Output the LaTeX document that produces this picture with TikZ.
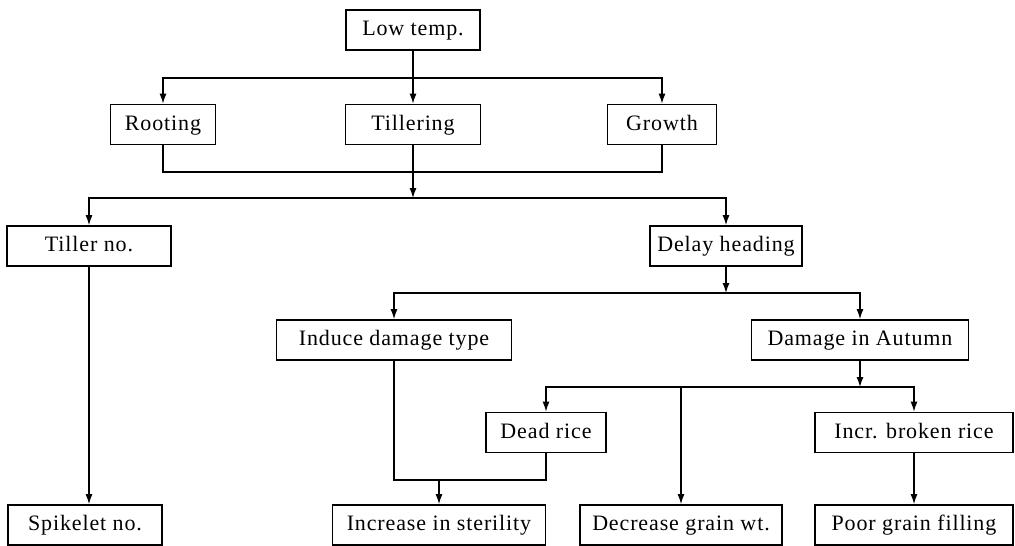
\documentclass[tikz,border=0pt]{standalone}
\usepackage{fontspec}
\setmainfont{Liberation Serif}
\newfontfamily\boxfont{Liberation Serif}[LetterSpace=4]
\usepackage{tikz}
\usetikzlibrary{arrows.meta}
\tikzset{
  stage/.style={draw, line width=1.8pt, minimum height=40pt, inner sep=0pt,
    text height=15pt, text depth=4pt,
    font=\boxfont\fontsize{22}{26}\selectfont},
  flow/.style={line width=1.2pt, >={Latex[length=10pt,width=7pt]}},
}

\begin{document}
\begin{tikzpicture}[x=1pt,y=-1pt]
        \useasboundingbox (0,0) rectangle (1015,546);

        \node[stage, minimum width=134pt] (lowtemp) at (413,30) {Low temp.};
        \node[stage, minimum width=105pt] (rooting) at (163,124.5) {Rooting};
        \node[stage, minimum width=135pt] (tillering) at (413,124.5) {Tillering};
        \node[stage, minimum width=109pt] (growth) at (662,124.5) {Growth};
        \node[stage, minimum width=164pt] (tillerno) at (89,246) {Tiller no.};
        \node[stage, minimum width=152pt] (delay) at (726,246) {Delay heading};
        \node[stage, minimum width=235pt] (induce) at (394,340) {Induce damage type};
        \node[stage, minimum width=217pt] (autumn) at (860,340) {Damage in Autumn};
        \node[stage, minimum width=120pt] (deadrice) at (546,432.5) {Dead rice};
        \node[stage, minimum width=198pt] (broken) at (914,432.5) {Incr. broken rice};
        \node[stage, minimum width=154pt] (spikelet) at (85,525) {Spikelet no.};
        \node[stage, minimum width=213pt] (sterility) at (439,525) {Increase in sterility};
        \node[stage, minimum width=202pt] (decrease) at (681,525) {Decrease grain wt.};
        \node[stage, minimum width=198pt] (poor) at (914,525) {Poor grain filling};

        \coordinate (bar1) at (413,78);
        \coordinate (bar2) at (413,172);
        \coordinate (split1) at (413,198);
        \coordinate (split2) at (726,293);
        \coordinate (split3) at (860,387);
        \coordinate (merge) at (439,480);

        \draw[flow,->] (lowtemp) -- (tillering);
        \draw[flow,<->] (rooting.north) |- (bar1) -| (growth.north);
        \draw[flow] (rooting.south) |- (bar2) -| (growth.south);
        \draw[flow,->] (tillering) -- (split1);
        \draw[flow,<->] (tillerno.north) |- (split1) -| (delay.north);
        \draw[flow,->] (delay) -- (split2);
        \draw[flow,<->] (induce.north) |- (split2) -| (autumn.north);
        \draw[flow,->] (autumn) -- (split3);
        \draw[flow,<->] (deadrice.north) |- (split3) -| (broken.north);
        \draw[flow,->] (split3 -| decrease.north) -- (decrease.north);
        \draw[flow] (induce.south) |- (merge) -| (deadrice.south);
        \draw[flow,->] (merge) -- (sterility);
        \draw[flow,->] (tillerno) -- (tillerno |- spikelet.north);
        \draw[flow,->] (broken) -- (poor);
\end{tikzpicture}
\end{document}
